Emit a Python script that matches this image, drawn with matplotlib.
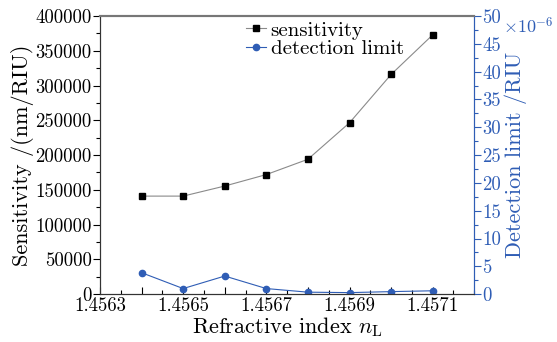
import matplotlib
matplotlib.use("Agg")
import matplotlib.pyplot as plt
from matplotlib.ticker import MultipleLocator

plt.rcParams['font.family'] = ['cmr10', 'DejaVu Serif']
plt.rcParams['mathtext.fontset'] = 'cm'
plt.rcParams['axes.formatter.use_mathtext'] = True
plt.rcParams['font.size'] = 13.5

n_L = [1.4564, 1.4565, 1.4566, 1.4567, 1.4568, 1.4569, 1.4570, 1.4571]
sensitivity = [141000, 141000, 155500, 172000, 194000, 246500, 316000, 373000]
det_limit = [3.85, 1.0, 3.25, 1.0, 0.35, 0.27, 0.45, 0.6]  # x1e-6 RIU

xticks = [1.4563, 1.4564, 1.4565, 1.4566, 1.4567, 1.4568, 1.4569, 1.4570, 1.4571]
xlabels = ['1.4563', '', '1.4565', '', '1.4567', '', '1.4569', '', '1.4571']

blue = '#2f5db5'

fig = plt.figure(figsize=(5.57, 3.42), dpi=100)
ax = fig.add_axes([0.1795, 0.140, 0.672, 0.813])
ax2 = ax.twinx()

l1, = ax.plot(n_L, sensitivity, color='#8a8a8a', lw=0.8, marker='s', ms=4,
              mfc='black', mec='black', label='sensitivity')
l2, = ax2.plot(n_L, det_limit, color=blue, lw=0.8, marker='o', ms=4.5,
               mfc=blue, mec=blue, label='detection limit')

ax.set_xlim(1.4563, 1.4572)
ax.set_ylim(0, 400000)
ax2.set_ylim(0, 50)

ax.set_xticks(xticks)
ax.set_xticklabels(xlabels)
ax.xaxis.set_minor_locator(MultipleLocator(0.00005))
ax.tick_params(axis='x', which='major', direction='in', length=5, width=0.8, pad=2)
ax.tick_params(axis='x', which='minor', direction='in', length=3, width=0.8)

ax.yaxis.set_major_locator(MultipleLocator(50000))
ax.yaxis.set_minor_locator(MultipleLocator(25000))
ax.set_yticklabels([str(int(v)) for v in ax.get_yticks()])
ax.tick_params(axis='y', which='major', direction='out', length=5, width=0.8, pad=1)
ax.tick_params(axis='y', which='minor', direction='out', length=3, width=0.8)

ax2.yaxis.set_major_locator(MultipleLocator(5))
ax2.yaxis.set_minor_locator(MultipleLocator(2.5))
ax2.set_yticklabels([str(int(v)) for v in ax2.get_yticks()])
ax2.tick_params(axis='y', which='major', direction='out', length=5, width=0.8,
                colors=blue, pad=1)
ax2.tick_params(axis='y', which='minor', direction='out', length=3, width=0.8,
                colors=blue)

for a in (ax, ax2):
    a.spines['top'].set_color('#777777')
    a.spines['top'].set_linewidth(1.5)
    a.spines['left'].set_color('#333333')
    a.spines['bottom'].set_color('#333333')
    a.spines['right'].set_color(blue)

ax.set_xlabel(r'Refractive index $n_{\mathrm{L}}$', fontsize=16, labelpad=0)
ax.set_ylabel('Sensitivity /(nm/RIU)', fontsize=16, labelpad=1)
ax2.set_ylabel('Detection limit /RIU', color=blue, fontsize=16, labelpad=2)

fig.text(0.903, 0.925, r'$\times10^{-6}$', color=blue, fontsize=13, ha='left', va='center')

ax.legend(handles=[l1, l2], loc='upper left', bbox_to_anchor=(0.35, 1.035),
          frameon=False, handlelength=1.0, handletextpad=0.2, labelspacing=0.0,
          borderpad=0.2, fontsize=15)

fig.savefig('out.png', dpi=100)
